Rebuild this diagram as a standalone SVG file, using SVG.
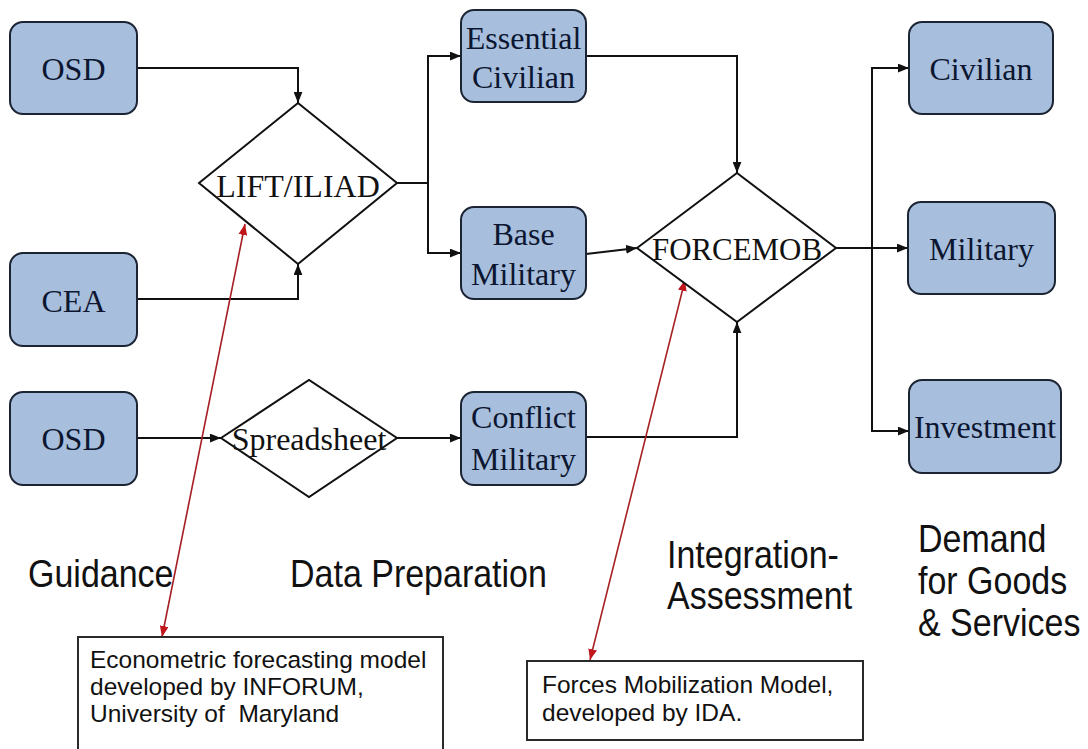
<svg xmlns="http://www.w3.org/2000/svg" width="1088" height="749" viewBox="0 0 1088 749">
<style>
.box{fill:#a7bedd;stroke:#1c2433;stroke-width:2}
.dia{fill:#ffffff;stroke:#111111;stroke-width:2}
.nt{font-family:"Liberation Serif","Times New Roman",serif;font-size:32px;fill:#0c1630;text-anchor:middle}
.dt{font-family:"Liberation Serif","Times New Roman",serif;font-size:32px;fill:#111111;text-anchor:middle}
.big{font-family:"Liberation Sans",Arial,sans-serif;font-size:34px;fill:#111111}
.note{fill:#ffffff;stroke:#2a2a2a;stroke-width:2}
.nx{font-family:"Liberation Sans",Arial,sans-serif;font-size:24.5px;fill:#111111}
.c{fill:none;stroke:#111111;stroke-width:2;marker-end:url(#ah)}
.cn{fill:none;stroke:#111111;stroke-width:2}
.r{fill:none;stroke:#a61e22;stroke-width:1.6;marker-start:url(#rh);marker-end:url(#rh)}
</style>
<defs>
<marker id="ah" viewBox="0 0 10 8" refX="10" refY="4" markerWidth="11" markerHeight="9" markerUnits="userSpaceOnUse" orient="auto"><path d="M0,0 L10,4 L0,8 z" fill="#111111"/></marker>
<marker id="rh" viewBox="0 0 10 8" refX="10" refY="4" markerWidth="11" markerHeight="9" markerUnits="userSpaceOnUse" orient="auto-start-reverse"><path d="M0,0 L10,4 L0,8 z" fill="#c0161c"/></marker>
</defs>
<rect width="1088" height="749" fill="#ffffff"/>

<g id="connectors">
<path class="c" d="M137,68 H298 V103"/>
<path class="c" d="M137,299 H298 V264"/>
<path class="c" d="M397,183 H428 V56 H461"/>
<path class="c" d="M428,183 V253 H461"/>
<path class="c" d="M137,438 H221"/>
<path class="c" d="M397,438 H461"/>
<path class="c" d="M586,56 H737 V173"/>
<path class="c" d="M586,254 L637,248"/>
<path class="c" d="M586,437 H737 V322"/>
<path class="c" d="M836,248 H908"/>
<path class="c" d="M872,248 V68 H909"/>
<path class="c" d="M872,248 V431 H909"/>
<path class="r" d="M162,637 L245,224"/>
<path class="r" d="M590,660 L685,280"/>
</g>

<g id="osd1"><rect class="box" x="10" y="22" width="127" height="92" rx="13"/><text class="nt" x="73.5" y="80">OSD</text></g>
<g id="cea"><rect class="box" x="10" y="253" width="127" height="93" rx="13"/><text class="nt" x="73.5" y="312">CEA</text></g>
<g id="osd2"><rect class="box" x="10" y="392" width="127" height="93" rx="13"/><text class="nt" x="73.5" y="450">OSD</text></g>

<g id="lift"><polygon class="dia" points="199,183 298,103 397,183 298,264"/><text class="dt" x="298" y="197">LIFT/ILIAD</text></g>
<g id="spreadsheet"><polygon class="dia" points="221,438 309,380 397,438 309,497"/><text class="dt" x="309" y="450">Spreadsheet</text></g>

<g id="esscivilian"><rect class="box" x="461" y="10" width="125" height="92" rx="13"/><text class="nt" x="523.5" y="49">Essential</text><text class="nt" x="523.5" y="88">Civilian</text></g>
<g id="basemilitary"><rect class="box" x="461" y="207" width="125" height="92" rx="13"/><text class="nt" x="523.5" y="245">Base</text><text class="nt" x="523.5" y="285">Military</text></g>
<g id="conflictmilitary"><rect class="box" x="461" y="392" width="125" height="93" rx="13"/><text class="nt" x="523.5" y="428">Conflict</text><text class="nt" x="523.5" y="470">Military</text></g>

<g id="forcemob"><polygon class="dia" points="637,248 737,173 836,248 737,322"/><text class="dt" x="737" y="260" textLength="170" lengthAdjust="spacingAndGlyphs">FORCEMOB</text></g>

<g id="civilian"><rect class="box" x="909" y="22" width="144" height="92" rx="13"/><text class="nt" x="981" y="80">Civilian</text></g>
<g id="military"><rect class="box" x="908" y="202" width="147" height="92" rx="13"/><text class="nt" x="981.5" y="260">Military</text></g>
<g id="investment"><rect class="box" x="909" y="380" width="152" height="93" rx="13"/><text class="nt" x="985" y="438">Investment</text></g>

<g id="labels">
<text class="big" transform="translate(28,587) scale(1,1.14)">Guidance</text>
<text class="big" transform="translate(290,587) scale(1,1.14)">Data Preparation</text>
<text class="big" transform="translate(667,568) scale(1,1.15)">Integration-</text>
<text class="big" transform="translate(667,609) scale(1,1.15)">Assessment</text>
<text class="big" transform="translate(918,552) scale(1,1.15)">Demand</text>
<text class="big" transform="translate(918,594) scale(1,1.15)">for Goods</text>
<text class="big" transform="translate(918,636) scale(1,1.15)">&amp; Services</text>
</g>

<g id="note1"><rect class="note" x="78" y="637" width="365" height="130"/>
<text class="nx" x="90" y="668">Econometric forecasting model</text>
<text class="nx" x="90" y="695">developed by INFORUM,</text>
<text class="nx" x="90" y="722" xml:space="preserve">University of  Maryland</text></g>
<g id="note2"><rect class="note" x="527" y="661" width="336" height="79"/>
<text class="nx" x="542" y="693">Forces Mobilization Model,</text>
<text class="nx" x="542" y="721">developed by IDA.</text></g>
</svg>
